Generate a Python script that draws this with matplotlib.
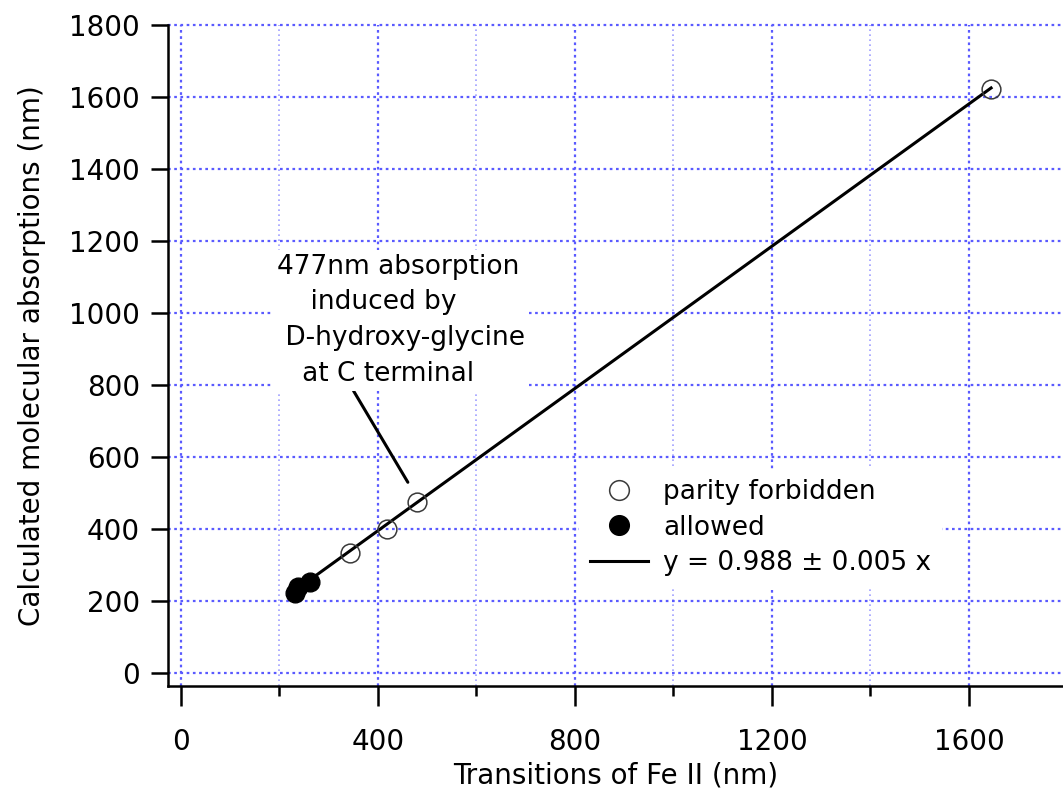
import matplotlib.pyplot as plt
import numpy as np
from matplotlib.ticker import MultipleLocator

# data
forbidden_x = [343, 418, 480, 1645]
forbidden_y = [334, 401, 476, 1621]
allowed_x = [232, 237, 262]
allowed_y = [223, 239, 254]
slope = 0.988
fit_x = [235, 1645]

grid_major = "#5a5aff"
grid_minor = "#a0a0ff"

plt.rcParams["font.family"] = ["DejaVu Sans"]

fig = plt.figure(figsize=(10.63, 7.90), dpi=100)
ax = fig.add_axes([0.158, 0.1316, 0.842, 0.8367])

ax.set_xlim(-26, 1791)
ax.set_ylim(-36, 1800)

ax.xaxis.set_major_locator(MultipleLocator(400))
ax.xaxis.set_minor_locator(MultipleLocator(200))
ax.yaxis.set_major_locator(MultipleLocator(200))

ax.grid(which="major", axis="both", color=grid_major, linestyle=(0, (1.2, 1.6)), linewidth=1.6)
ax.grid(which="minor", axis="x", color=grid_minor, linestyle=(0, (1, 2)), linewidth=1.2)
ax.set_axisbelow(True)
for gl in ax.get_ygridlines():
    gl.set_clip_on(False)

for side in ["top", "right"]:
    ax.spines[side].set_visible(False)
ax.spines["left"].set_linewidth(1.8)
ax.spines["bottom"].set_linewidth(1.8)

ax.tick_params(axis="both", which="major", direction="out", width=1.8, labelsize=20)
ax.tick_params(axis="y", which="major", length=12, pad=8)
ax.tick_params(axis="x", which="major", length=14.5, pad=16)
ax.tick_params(axis="x", which="minor", length=7.5, width=1.8, direction="out")

fit_y = [slope * v for v in fit_x]
ax.plot(fit_x, fit_y, color="black", linewidth=2.2, zorder=3, label="y = 0.988 ± 0.005 x")
ax.plot(forbidden_x, forbidden_y, linestyle="none", marker="o", markersize=13.5,
        markerfacecolor="none", markeredgecolor="#3a3a3a", markeredgewidth=1.1,
        zorder=4, label="parity forbidden")
ax.plot(allowed_x, allowed_y, linestyle="none", marker="o", markersize=13.5,
        color="black", zorder=4, label="allowed")

handles, labels = ax.get_legend_handles_labels()
order = [1, 2, 0]
leg = ax.legend([handles[i] for i in order], [labels[i] for i in order],
                loc="upper left", bbox_to_anchor=(0.445, 0.349), frameon=True,
                fontsize=19, handlelength=2.2, handletextpad=0.57, labelspacing=0.36,
                borderpad=0.4, markerscale=1.05)
leg.get_frame().set_edgecolor("none")
leg.get_frame().set_facecolor("white")
leg.get_frame().set_alpha(1.0)
leg.get_frame().set_boxstyle("square", pad=0)

ax.annotate("477nm absorption\n    induced by\n D-hydroxy-glycine\n   at C terminal",
            xy=(461, 530), xytext=(195, 980), textcoords="data",
            fontsize=19, ha="left", va="center", linespacing=1.49,
            bbox=dict(boxstyle="square,pad=0.15", facecolor="white", edgecolor="none"),
            arrowprops=dict(arrowstyle="-", color="black", linewidth=2.2,
                            shrinkA=0, shrinkB=0, relpos=(0.30, 0.0)))

ax.set_xlabel("Transitions of Fe II (nm)", fontsize=20, labelpad=4)
ax.set_ylabel("Calculated molecular absorptions (nm)", fontsize=20, labelpad=17)

fig.savefig("out.png", dpi=100)
